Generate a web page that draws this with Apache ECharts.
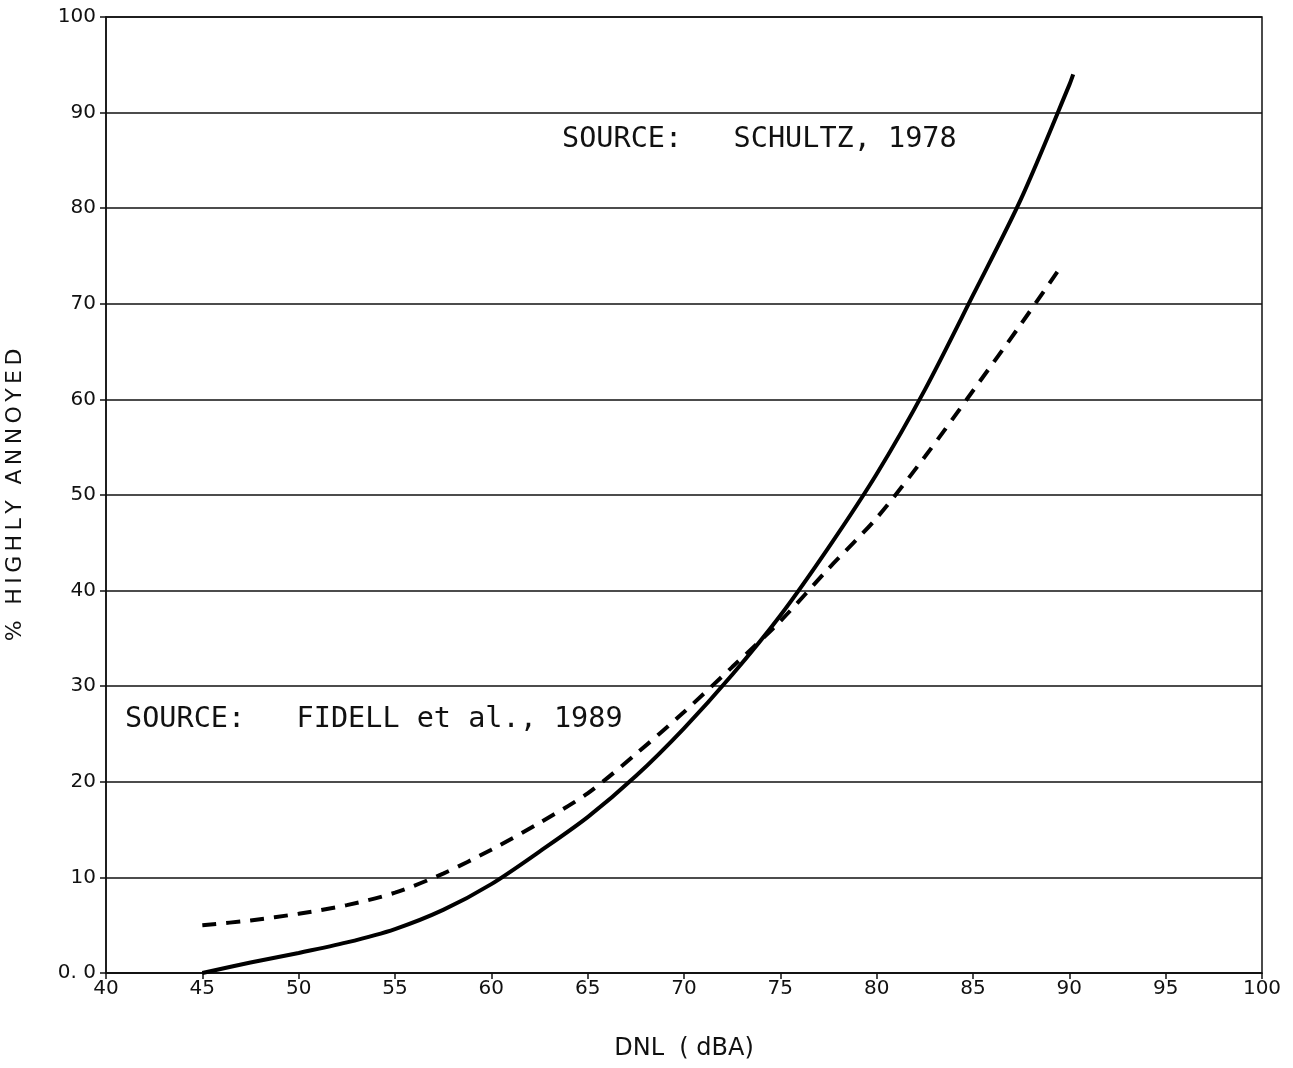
<!DOCTYPE html>
<html>
<head>
<meta charset="utf-8">
<script src="https://cdn.jsdelivr.net/npm/echarts@6/dist/echarts.min.js"></script>
<style>
  html, body { margin: 0; padding: 0; background: #fff; }
  #chart { width: 1293px; height: 1068px; }
</style>
</head>
<body>
<div id="chart"></div>
<script>
// DNL (dBA) points
const schultzX = [45, 47.5, 50, 52.5, 55, 57.5, 60, 62.5, 65, 67.5, 70, 72.5, 75, 77.5, 80, 82.5, 85, 87.5, 90, 90.2];
const schultzY = [0, 1.1, 2.1, 3.2, 4.6, 6.6, 9.3, 12.7, 16.3, 20.6, 25.6, 31.2, 37.4, 44.5, 52.2, 61, 70.9, 81, 92.9, 94];

const fidellX = [45, 47.5, 50, 52.5, 55, 57.5, 60, 62.5, 65, 67.5, 70, 72.5, 75, 77.5, 80, 82.5, 85, 87.5, 89.6];
const fidellY = [5, 5.5, 6.2, 7.1, 8.4, 10.4, 12.9, 15.7, 18.8, 22.9, 27.3, 32.0, 36.8, 42.3, 47.6, 54, 60.9, 67.9, 74];

const schultzNote = 'SOURCE:   SCHULTZ, 1978';
const fidellNote = 'SOURCE:   FIDELL et al., 1989';

// spread the letters a bit, like the plotter lettering
const yName = '% HIGHLY ANNOYED'.split('').join('\u2009');

function pairs(xs, ys) {
    var out = [];
    for (var i = 0; i < xs.length; i++) {
        out.push([xs[i], ys[i]]);
    }
    return out;
}

const chart = echarts.init(document.getElementById('chart'));

const labelFont = {
    color: '#111',
    fontFamily: 'DejaVu Sans',
    fontSize: 20
};

chart.setOption({
    backgroundColor: '#fff',
    animation: false,
    grid: {
        left: 106,
        right: 31,
        top: 17,
        bottom: 95,
        outerBoundsMode: 'none',
        containLabel: false,
        show: true,
        borderColor: '#111',
        borderWidth: 1.5
    },
    xAxis: {
        type: 'value',
        min: 40,
        max: 100,
        interval: 5,
        name: 'DNL  ( dBA)',
        nameLocation: 'middle',
        nameGap: 64,
        nameTextStyle: { color: '#111', fontFamily: 'DejaVu Sans', fontSize: 24 },
        axisLine: { lineStyle: { color: '#111', width: 1.5 } },
        axisTick: { show: true, inside: false, length: 6, lineStyle: { color: '#111', width: 1.5 } },
        axisLabel: Object.assign({ margin: 6 }, labelFont),
        splitLine: { show: false }
    },
    yAxis: {
        type: 'value',
        min: 0,
        max: 100,
        interval: 10,
        name: yName,
        nameLocation: 'middle',
        nameGap: 80,
        nameRotate: 90,
        nameTextStyle: { color: '#111', fontFamily: 'DejaVu Sans', fontSize: 22 },
        axisLine: { show: true, lineStyle: { color: '#111', width: 1.5 } },
        axisTick: { show: true, inside: false, length: 6, lineStyle: { color: '#111', width: 1.5 } },
        axisLabel: Object.assign({
            margin: 10,
            formatter: function (v) { return v === 0 ? '0. 0' : String(v); }
        }, labelFont),
        splitLine: { show: true, lineStyle: { color: '#111', width: 1.5 } }
    },
    series: [
        {
            name: 'Schultz 1978',
            type: 'line',
            data: pairs(schultzX, schultzY),
            smooth: 0.3,
            showSymbol: false,
            lineStyle: { color: '#000', width: 4 }
        },
        {
            name: 'Fidell et al. 1989',
            type: 'line',
            data: pairs(fidellX, fidellY),
            smooth: 0.3,
            showSymbol: false,
            lineStyle: { color: '#000', width: 4, type: [14, 10] }
        }
    ],
    graphic: [
        {
            type: 'text',
            left: 562,
            top: 125,
            style: {
                text: schultzNote,
                fill: '#111',
                font: '28.5px "DejaVu Sans Mono"'
            }
        },
        {
            type: 'text',
            left: 125,
            top: 705,
            style: {
                text: fidellNote,
                fill: '#111',
                font: '28.5px "DejaVu Sans Mono"'
            }
        }
    ]
});
</script>
</body>
</html>
